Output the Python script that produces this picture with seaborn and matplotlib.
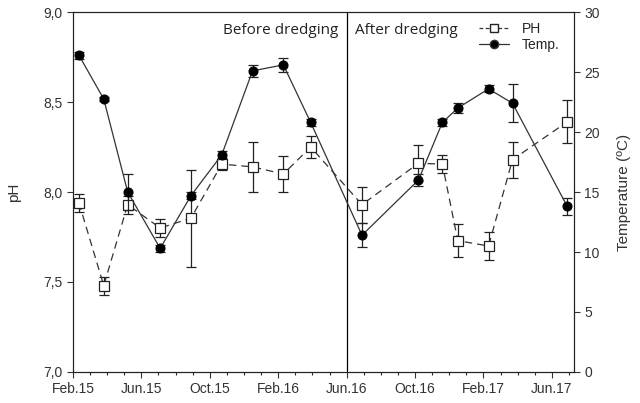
import matplotlib
matplotlib.use("Agg")
import matplotlib.pyplot as plt
import numpy as np
import pandas as pd
import seaborn as sns
from matplotlib.lines import Line2D
from matplotlib.ticker import FuncFormatter, MultipleLocator

# sampling dates, months counted from Feb.15
months = [0.35, 1.8, 3.2, 5.1, 6.9, 8.7, 10.5, 12.3, 13.9, 16.9,
          20.2, 21.6, 22.5, 24.3, 25.7, 28.9]
ph = [7.94, 7.48, 7.93, 7.80, 7.855, 8.155, 8.14, 8.10, 8.25, 7.93,
      8.16, 8.155, 7.73, 7.70, 8.18, 8.39]
ph_err = [0.05, 0.05, 0.05, 0.05, 0.27, 0.03, 0.14, 0.10, 0.06, 0.10,
          0.10, 0.05, 0.09, 0.08, 0.10, 0.12]
temp = [26.4, 22.75, 15.0, 10.3, 14.7, 18.1, 25.1, 25.6, 20.8, 11.4,
        16.0, 20.8, 22.0, 23.6, 22.4, 13.8]
temp_err = [0.3, 0.2, 1.5, 0.3, 0.3, 0.3, 0.5, 0.6, 0.3, 1.0,
            0.5, 0.3, 0.4, 0.3, 1.6, 0.7]

tick_months = [0, 4, 8, 12, 16, 20, 24, 28]
tick_labels = ["Feb.15", "Jun.15", "Oct.15", "Feb.16", "Jun.16",
               "Oct.16", "Feb.17", "Jun.17"]
split_month = 16

df = pd.DataFrame({"month": months, "ph": ph, "temp": temp})

sns.set_style("ticks")
plt.rcParams["font.family"] = ["Liberation Sans", "DejaVu Sans"]

fig = plt.figure(figsize=(6.4, 4.03), dpi=100)
ax = fig.add_axes([0.114, 0.077, 0.783, 0.893])
ax2 = ax.twinx()

# pH (dashed, open squares)
ax.errorbar(months, ph, yerr=ph_err, fmt="none", ecolor="#222222",
            elinewidth=0.9, capsize=3.5, capthick=0.9, zorder=2)
sns.lineplot(data=df, x="month", y="ph", ax=ax, color="#333333",
             linestyle=(0, (6, 4)), linewidth=0.9, marker="s",
             markersize=6.5, markerfacecolor="white",
             markeredgecolor="#222222", markeredgewidth=0.9, zorder=3)

# temperature (solid, filled circles)
ax2.errorbar(months, temp, yerr=temp_err, fmt="none", ecolor="#222222",
             elinewidth=0.9, capsize=3.5, capthick=0.9, zorder=2)
sns.lineplot(data=df, x="month", y="temp", ax=ax2, color="#333333",
             linewidth=0.9, marker="o", markersize=6.5,
             markerfacecolor="black", markeredgecolor="black", zorder=3)

ax.axvline(split_month, color="black", linewidth=0.9)

ax.set_xlim(0, 29.3)
ax.set_ylim(7.0, 9.0)
ax2.set_ylim(0, 30)

ax.set_xticks(tick_months)
ax.set_xticklabels(tick_labels)
ax.xaxis.set_minor_locator(MultipleLocator(1))
ax.yaxis.set_major_locator(MultipleLocator(0.5))
ax.yaxis.set_major_formatter(FuncFormatter(lambda v, p: f"{v:.1f}".replace(".", ",")))
ax2.yaxis.set_major_locator(MultipleLocator(5))

for a in (ax, ax2):
    a.tick_params(axis="both", which="major", length=4, width=0.8,
                  labelsize=10, colors="#333333", labelcolor="#333333")
    a.tick_params(axis="x", which="minor", length=2.5, width=0.8)
    for s in a.spines.values():
        s.set_linewidth(0.8)
        s.set_color("#222222")
        s.set_visible(True)

ax.set_xlabel("")
ax.set_ylabel("pH", fontsize=11, color="#333333", labelpad=16)
ax2.set_ylabel("Temperature (ºC)", fontsize=11, color="#333333", labelpad=12)

ax.text(split_month - 0.5, 8.90, "Before dredging", ha="right", va="center",
        fontsize=11, family=["Open Sans", "DejaVu Sans"], color="#222222")
ax.text(split_month + 0.5, 8.90, "After dredging", ha="left", va="center",
        fontsize=11, family=["Open Sans", "DejaVu Sans"], color="#222222")

handles = [
    Line2D([], [], color="#333333", linestyle=(0, (3, 2)), linewidth=0.9,
           marker="s", markersize=6, markerfacecolor="white",
           markeredgecolor="#222222"),
    Line2D([], [], color="#333333", linewidth=0.9, marker="o",
           markersize=6, markerfacecolor="black"),
]
ax2.legend(handles, ["PH", "Temp."], loc="upper left",
           bbox_to_anchor=(0.79, 1.0), frameon=False, fontsize=10,
           handlelength=2.2, handletextpad=0.9, labelspacing=0.15,
           borderaxespad=0.3)

fig.savefig("out.png", dpi=100)
